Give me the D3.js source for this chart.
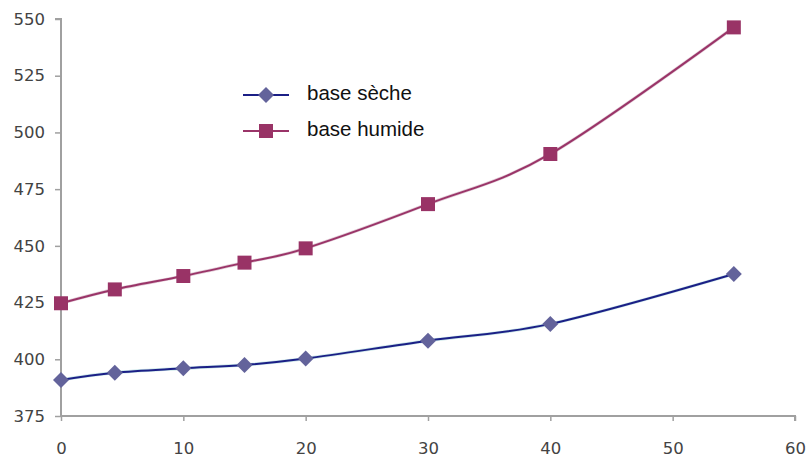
<!DOCTYPE html>
<html>
<head>
<meta charset="utf-8">
<script src="https://cdn.jsdelivr.net/npm/d3@7"></script>
<style>
  html, body { margin: 0; padding: 0; background: #ffffff; }
  svg { display: block; }
</style>
</head>
<body>
<svg id="chart" width="810" height="458"></svg>
<script>
// Abscissa values shared by both series
const xValues = [0, 4.4, 10, 15, 20, 30, 40, 55];
// Series values
const baseSeche  = [390.9, 394.1, 396.0, 397.5, 400.3, 408.2, 415.6, 437.6];
const baseHumide = [424.7, 430.8, 436.7, 442.6, 448.9, 468.4, 490.5, 546.3];
// Axis ticks
const xTicks = [0, 10, 20, 30, 40, 50, 60];
const yTicks = [375, 400, 425, 450, 475, 500, 525, 550];
// Legend entries
const seriesNames = ["base sèche", "base humide"];

const svg = d3.select("#chart");

const x = d3.scaleLinear().domain([0, 60]).range([61, 795]);
const y = d3.scaleLinear().domain([375, 550]).range([416, 19]);

const axisColor = "#a0a0a0";
const tickFont = "'DejaVu Sans', Verdana, sans-serif";

// Y axis
const yAxis = svg.append("g")
  .attr("transform", `translate(${x(0)},0)`)
  .call(d3.axisLeft(y).tickValues(yTicks).tickSize(6).tickPadding(10).tickFormat(d3.format("d")));
// X axis
const xAxis = svg.append("g")
  .attr("transform", `translate(0,${y(375)})`)
  .call(d3.axisBottom(x).tickValues(xTicks).tickSize(5).tickPadding(21).tickFormat(d3.format("d")));

[yAxis, xAxis].forEach(g => {
  g.select(".domain").attr("stroke", axisColor).attr("stroke-width", 2);
  g.selectAll(".tick line").attr("stroke", axisColor).attr("stroke-width", 1.5);
  g.selectAll(".tick text")
    .attr("fill", "#434343")
    .style("font-family", tickFont)
    .style("font-size", "16.5px");
});
// keep the axis line tight to its end ticks (no outer-tick caps beyond)
yAxis.select(".domain").attr("d", `M-6,${y(550)}H0V${y(375)}`);
xAxis.select(".domain").attr("d", `M${x(0)},0H${x(60)}V5`);

const series = [
  { name: seriesNames[0], values: baseSeche,  line: "#1b1f86", fill: "#63639b", shape: d3.symbolDiamond },
  { name: seriesNames[1], values: baseHumide, line: "#9a3468", fill: "#993366", shape: d3.symbolSquare }
];

const line = d3.line()
  .x(d => x(d[0]))
  .y(d => y(d[1]))
  .curve(d3.curveCardinal.tension(0));

// diamond: a square rotated 45°, ~16px across
function marker(sel, s) {
  if (s.shape === d3.symbolDiamond) {
    sel.attr("d", d3.symbol().type(d3.symbolSquare).size(128)())
       .attr("transform", function() { return d3.select(this).attr("transform") + " rotate(45)"; });
  } else {
    sel.attr("d", d3.symbol().type(d3.symbolSquare).size(196)());
  }
}

series.forEach(s => {
  const pts = xValues.map((xv, i) => [xv, s.values[i]]);
  // faint halo under the line
  svg.append("path")
    .datum(pts)
    .attr("fill", "none")
    .attr("stroke", s.shape === d3.symbolDiamond ? "#9fd3d6" : "#c9a0b4")
    .attr("stroke-opacity", 0.55)
    .attr("stroke-width", 3.2)
    .attr("d", line);
  svg.append("path")
    .datum(pts)
    .attr("fill", "none")
    .attr("stroke", s.line)
    .attr("stroke-width", 2)
    .attr("d", line);
  svg.append("g").selectAll("path")
    .data(pts)
    .join("path")
    .attr("transform", d => `translate(${x(d[0])},${y(d[1])})`)
    .attr("fill", s.fill)
    .each(function() { marker(d3.select(this), s); });
});

// Legend
const legend = svg.append("g");
series.forEach((s, i) => {
  const ly = 95 + i * 36;
  const g = legend.append("g");
  g.append("line")
    .attr("x1", 243).attr("x2", 289)
    .attr("y1", ly).attr("y2", ly)
    .attr("stroke", s.line).attr("stroke-width", 2);
  g.append("path")
    .attr("transform", `translate(266,${ly})`)
    .attr("fill", s.fill)
    .each(function() { marker(d3.select(this), s); });
  g.append("text")
    .attr("x", 307).attr("y", ly + 5)
    .attr("fill", "#111")
    .style("font-family", "'Liberation Sans', Arial, sans-serif")
    .style("font-size", "20.5px")
    .text(s.name);
});
</script>
</body>
</html>
